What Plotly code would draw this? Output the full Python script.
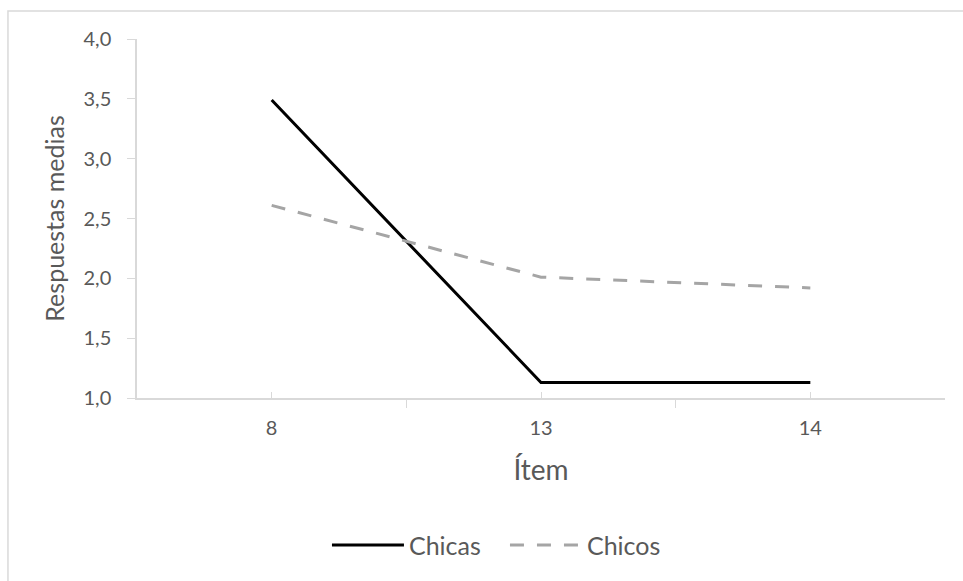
import plotly.graph_objects as go

# Mean responses per item, by group
items = ["8", "13", "14"]
chicas = [3.49, 1.13, 1.13]
chicos = [2.61, 2.01, 1.92]
y_ticks = [1.0, 1.5, 2.0, 2.5, 3.0, 3.5, 4.0]
y_tick_text = ["1,0", "1,5", "2,0", "2,5", "3,0", "3,5", "4,0"]

pos = list(range(1, len(items) + 1))
bounds = [p - 0.5 for p in pos] + [pos[-1] + 0.5]

FONT = "Lato"
TXT = "#595959"
AX = "#d9d9d9"

fig = go.Figure()
fig.add_trace(go.Scatter(
    x=pos, y=chicas, name="Chicas", mode="lines",
    line=dict(color="#000000", width=3),
))
fig.add_trace(go.Scatter(
    x=pos, y=chicos, name="Chicos", mode="lines",
    line=dict(color="#a5a5a5", width=3, dash="14px,13px"),
))

xr = [0.5, len(items) + 0.5]
yr = [1.0, 4.0]

fig.update_layout(
    width=963, height=581,
    margin=dict(l=137, r=18, t=39, b=183),
    paper_bgcolor="white", plot_bgcolor="white",
    font=dict(family=FONT, color=TXT),
    showlegend=True,
    legend=dict(
        orientation="h", x=0.2351, xanchor="left", y=-0.41, yanchor="middle",
        font=dict(size=25, color=TXT), itemwidth=72,
        entrywidth=91, entrywidthmode="pixels",
    ),
    xaxis=dict(
        range=xr, tickvals=pos, ticktext=items,
        ticks="inside", ticklen=6, tickcolor=AX, tickwidth=1,
        minor=dict(tick0=0.5, dtick=1, ticks="outside", ticklen=8,
                   tickcolor=AX, tickwidth=1),
        showline=True, linecolor=AX, linewidth=1.5,
        showgrid=False, zeroline=False,
        tickfont=dict(size=20, color=TXT), ticklabelstandoff=11,
        title=dict(text="Ítem", font=dict(size=28, color=TXT), standoff=23),
    ),
    xaxis2=dict(
        range=xr, overlaying="x", tickvals=bounds,
        ticks="inside", ticklen=8, tickcolor=AX, tickwidth=1,
        showticklabels=False, showline=False, showgrid=False, zeroline=False,
    ),
    yaxis=dict(
        range=yr, tickvals=y_ticks, ticktext=y_tick_text,
        ticks="outside", ticklen=8, tickcolor=AX, tickwidth=1,
        showline=True, linecolor=AX, linewidth=1.5,
        showgrid=False, zeroline=False,
        tickfont=dict(size=20, color=TXT), ticklabelstandoff=12,
        title=dict(text="Respuestas medias", font=dict(size=25, color=TXT), standoff=12),
    ),
    yaxis2=dict(
        range=yr, overlaying="y", tickvals=y_ticks,
        ticks="inside", ticklen=7, tickcolor=AX, tickwidth=1,
        showticklabels=False, showline=False, showgrid=False, zeroline=False,
    ),
)

# chart frame
fig.add_shape(type="rect", xref="paper", yref="paper",
              x0=-0.1597, x1=1.2, y0=-0.7, y1=1.078,
              line=dict(color=AX, width=1.5), fillcolor="rgba(0,0,0,0)", layer="below")

fig.write_html("out.html")
